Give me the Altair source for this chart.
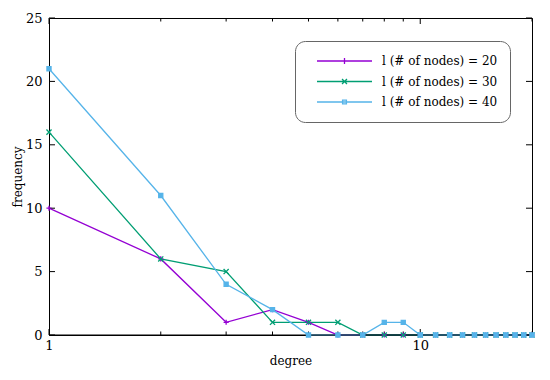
import altair as alt
import pandas as pd

degrees = list(range(1, 21))
series_names = ["l (# of nodes) = 20", "l (# of nodes) = 30", "l (# of nodes) = 40"]
freq_20 = [10, 6, 1, 2, 1, 0, 0, 0, 0, 0, 0, 0, 0, 0, 0, 0, 0, 0, 0, 0]
freq_30 = [16, 6, 5, 1, 1, 1, 0, 0, 0, 0, 0, 0, 0, 0, 0, 0, 0, 0, 0, 0]
freq_40 = [21, 11, 4, 2, 0, 0, 0, 1, 1, 0, 0, 0, 0, 0, 0, 0, 0, 0, 0, 0]
colors = ["#9400d3", "#009e73", "#56b4e9"]
marker_paths = ["M-1,0H1M0,-1V1", "M-1,-1L1,1M-1,1L1,-1", "M-0.8,-0.8H0.8V0.8H-0.8Z"]
legend_paths = [
    "M-1,0H1M0,-0.11V0.11",
    "M-1,0H1M-0.09,-0.09L0.09,0.09M-0.09,0.09L0.09,-0.09",
    "M-1,0H1M-0.07,-0.07H0.07V0.07H-0.07Z",
]
y_ticks = [0, 5, 10, 15, 20, 25]
x_major = [1, 10]
x_minor = [2, 3, 4, 5, 6, 7, 8, 9, 20]
zero_line = [0]

W, H = 483, 317
FONT = "DejaVu Serif"

rows = []
for name, vals in zip(series_names, [freq_20, freq_30, freq_40]):
    for d, f in zip(degrees, vals):
        rows.append({"degree": d, "frequency": f, "series": name})
df = pd.DataFrame(rows)

xscale = alt.Scale(type="log", domain=[1, 20])
yscale = alt.Scale(domain=[0, 25], nice=False, zero=False)
cscale = alt.Scale(domain=series_names, range=colors)

x_axis = alt.Axis(values=[1, 10], format="d", ticks=False, domain=False, grid=False,
                  labelFlush=False, labelPadding=4, titlePadding=3)
y_axis = alt.Axis(values=y_ticks, ticks=False, domain=False, grid=False,
                  labelPadding=7, titlePadding=1)

def X():
    return alt.X("degree:Q", scale=xscale, title="degree", axis=x_axis)

def Y():
    return alt.Y("frequency:Q", scale=yscale, title="frequency", axis=y_axis)

lines = alt.Chart(df).mark_line(strokeWidth=1.3).encode(
    x=X(), y=Y(),
    color=alt.Color("series:N", scale=cscale, legend=None),
)

zero_rule = alt.Chart(pd.DataFrame({"frequency": zero_line})).mark_rule(
    color="black", strokeWidth=1).encode(y=Y())

points = alt.Chart(df).mark_point(filled=False, opacity=1, size=26, strokeWidth=1.3).encode(
    x=X(), y=Y(),
    stroke=alt.Stroke("series:N", scale=cscale, legend=None),
    fill=alt.Fill("series:N", scale=cscale, legend=None),
    shape=alt.Shape("series:N", scale=alt.Scale(domain=series_names, range=marker_paths), legend=None),
)

leg_props = dict(title=None, orient="none", legendX=246, legendY=23, padding=12,
                 cornerRadius=10, strokeColor="#666666", fillColor="white",
                 symbolSize=3025, symbolStrokeWidth=1.3, symbolOffset=9, labelOffset=9,
                 clipHeight=16, rowPadding=4.5, labelFont=FONT, labelFontSize=12,
                 labelColor="black", symbolOpacity=1, labelLimit=300)

legend_layer = alt.Chart(df).mark_point(filled=False, opacity=0, size=30).encode(
    x=X(), y=Y(),
    color=alt.Color("series:N", scale=cscale, legend=alt.Legend(**leg_props)),
    shape=alt.Shape("series:N", scale=alt.Scale(domain=series_names, range=legend_paths),
                    legend=alt.Legend(**leg_props)),
)

xt_major = pd.DataFrame({"degree": x_major})
xt_minor = pd.DataFrame({"degree": x_minor})
yt = pd.DataFrame({"frequency": y_ticks})

def xticks(data, length):
    bottom = alt.Chart(data).mark_rule(color="black", strokeWidth=1).encode(
        x=X(), y=alt.value(H), y2=alt.value(H - length))
    top = alt.Chart(data).mark_rule(color="black", strokeWidth=1).encode(
        x=X(), y=alt.value(0), y2=alt.value(length))
    return [bottom, top]

yleft = alt.Chart(yt).mark_rule(color="black", strokeWidth=1).encode(
    y=Y(), x=alt.value(0), x2=alt.value(6))
yright = alt.Chart(yt).mark_rule(color="black", strokeWidth=1).encode(
    y=Y(), x=alt.value(W - 6), x2=alt.value(W))

chart = alt.layer(
    lines, zero_rule, *xticks(xt_major, 6), *xticks(xt_minor, 3.5), yleft, yright,
    points, legend_layer,
).resolve_scale(
    shape="independent"
).resolve_legend(
    color="independent", shape="independent"
).properties(
    width=W, height=H,
    autosize=alt.AutoSizeParams(type="none"),
    padding={"left": 41, "top": 10, "right": 9, "bottom": 40},
).configure_view(
    stroke="black", strokeWidth=1
).configure_axis(
    labelFont=FONT, labelFontSize=13, labelColor="black",
    titleFont=FONT, titleFontSize=12, titleFontWeight="normal", titleColor="black",
)

chart.save("out.html", embed_options={"renderer": "svg", "actions": False})
